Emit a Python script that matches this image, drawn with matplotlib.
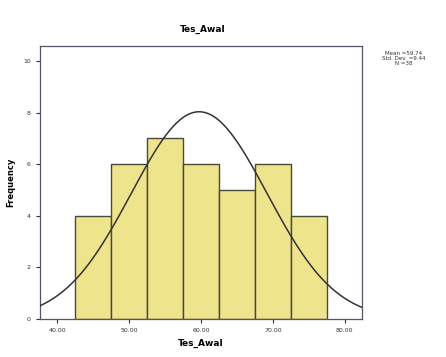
import numpy as np
import matplotlib
matplotlib.use("Agg")
import matplotlib.pyplot as plt

bin_edges = [42.5, 47.5, 52.5, 57.5, 62.5, 67.5, 72.5, 77.5]
counts = [4, 6, 7, 6, 5, 6, 4]
mean_val = 59.74
std_val = 9.44
n_val = 38
x_ticks = [40, 50, 60, 70, 80]
x_tick_labels = ["40.00", "50.00", "60.00", "70.00", "80.00"]
y_ticks = [0, 2, 4, 6, 8, 10]

fig = plt.figure(figsize=(4.46, 3.57), dpi=100)
ax = fig.add_axes([0.0897, 0.1064, 0.722, 0.765])

widths = np.diff(bin_edges)
ax.bar(bin_edges[:-1], counts, width=widths, align='edge',
       color='#EEE48C', edgecolor='#4a4a38', linewidth=1.0, zorder=2)

xlim = (37.6, 82.4)
xs = np.linspace(xlim[0], xlim[1], 400)
bw = widths[0]
ys = n_val * bw / (std_val * np.sqrt(2 * np.pi)) * np.exp(-0.5 * ((xs - mean_val) / std_val) ** 2)
ax.plot(xs, ys, color='#333333', linewidth=1.1, zorder=3)

ax.set_xlim(*xlim)
ax.set_ylim(0, 10.58)
ax.set_xticks(x_ticks)
ax.set_xticklabels(x_tick_labels)
ax.set_yticks(y_ticks)
ax.tick_params(labelsize=4.5, length=3, width=0.8, colors='#333333')
for s in ax.spines.values():
    s.set_color('#555566')
    s.set_linewidth(0.9)

ax.set_xlabel("Tes_Awal", fontsize=6.5, fontweight='bold', labelpad=4)
ax.set_ylabel("Frequency", fontsize=6, fontweight='bold', labelpad=6)
fig.text(0.455, 0.918, "Tes_Awal", ha='center', va='center', fontsize=6.5, fontweight='bold')

fig.text(0.905, 0.835, f"Mean ={mean_val}\nStd. Dev. ={std_val}\nN ={n_val}",
         ha='center', va='center', fontsize=4.0, linespacing=1.0, color='#333333')

fig.savefig("out.png", dpi=100)
